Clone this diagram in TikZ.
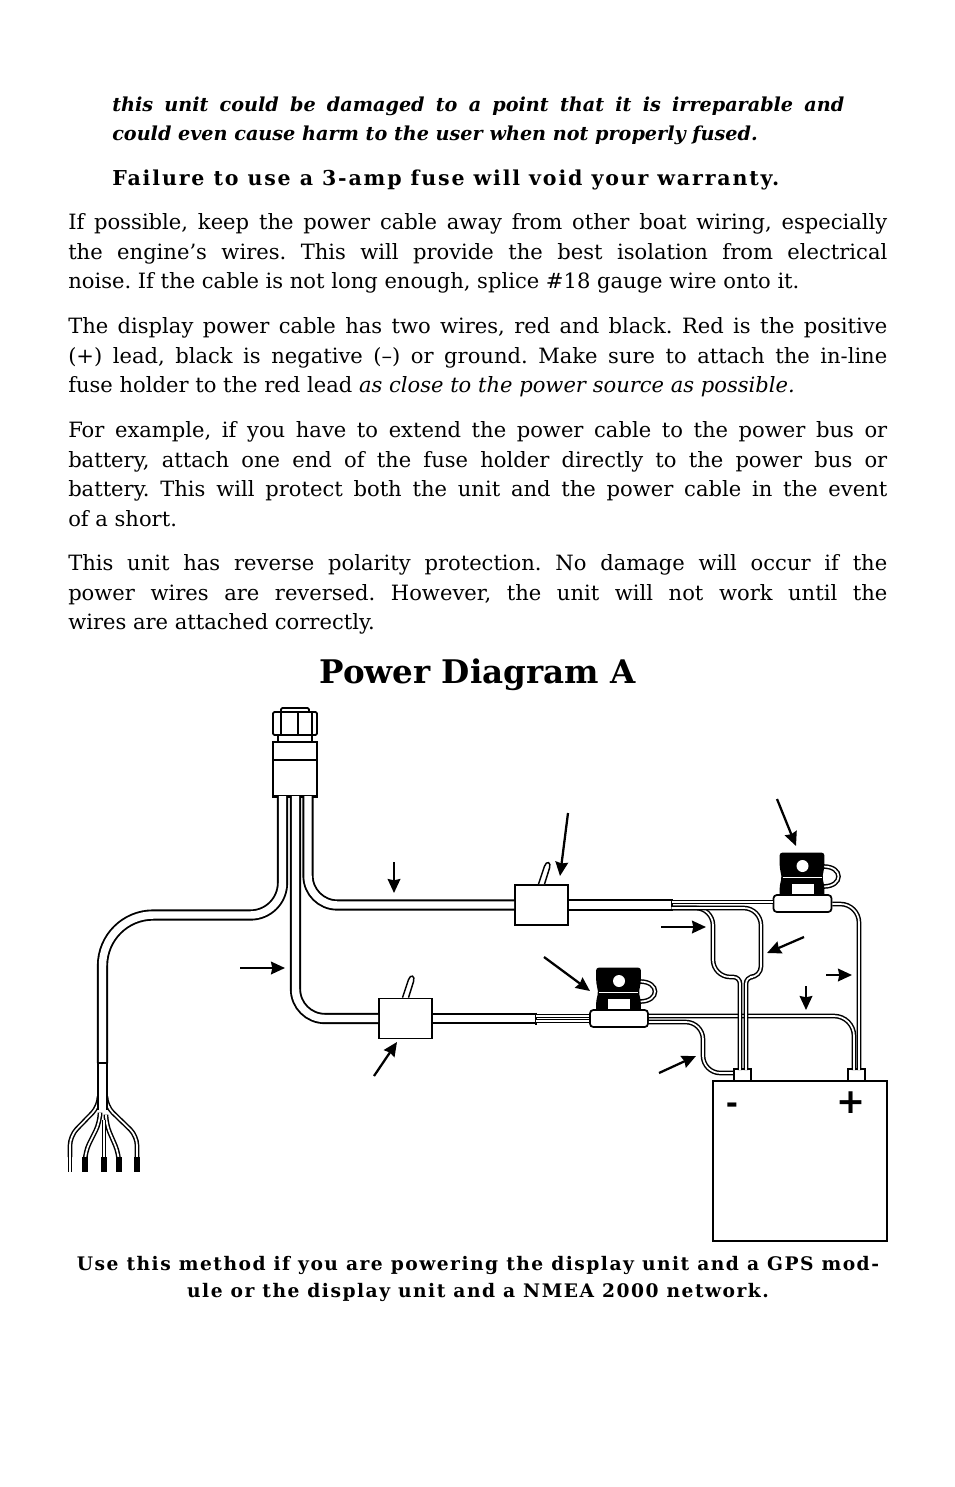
\documentclass[tikz,border=0pt]{standalone}
\usepackage{fontspec}
\setmainfont{DejaVu Serif}
\newfontfamily\signfont{DejaVu Sans}
\usetikzlibrary{arrows.meta}
\tikzset{
  x=0.75pt,y=-0.75pt,
  bodytext/.style={anchor=north west,inner sep=0pt,text width=614.25pt,align=justify,font=\fontsize{15.8}{22.15}\selectfont\frenchspacing},
  warntext/.style={anchor=north west,inner sep=0pt,align=justify,font=\fontsize{14.4}{22.15}\selectfont\bfseries\frenchspacing},
  cable/.style={line width=1.4pt,double=white,double distance=5.6pt},
  wire/.style={line width=1.1pt,double=white,double distance=1.3pt},
  pointer/.style={line width=1.7pt,-{Stealth[length=10.5pt,width=9.5pt,inset=1pt]}},
  switchbox/.style={draw,line width=1.3pt,fill=white,inner sep=0pt,minimum width=39.75pt,minimum height=30pt},
  terminal/.style={draw,line width=1.3pt,fill=white,inner sep=0pt,minimum width=13pt,minimum height=9pt},
  fusebase/.style={draw,line width=1.3pt,fill=white,inner sep=0pt,rounded corners=2.5pt,minimum width=43.5pt,minimum height=12.75pt},
  lever/.pic={
    \draw[line width=1.1pt,fill=white] (-3,0) -- (3,-18) .. controls (5,-24) and (10,-22) .. (8,-16) -- (3,0);
  },
  fuseholder/.pic={
    \draw[wire] (21,-37) .. controls (41,-37) and (41,-17) .. (21,-17);
    \draw[line width=1.3pt,fill=black,rounded corners=1.5pt] (-22,-50) -- (21,-50) -- (21,-37) -- (19,-26) -- (21,-17) -- (21,-6) -- (-22,-6) -- (-22,-17) -- (-20,-26) -- (-22,-37) -- cycle;
    \draw[white,line width=0.7pt] (-20,-26) -- (19,-26);
    \fill[white] (0,-37.5) circle[radius=6];
    \fill[white] (-11,-20) rectangle (11,-9.5);
    \node[fusebase] (-base) at (0,0) {};
  }
}
\begin{document}
\begin{tikzpicture}
  \useasboundingbox (0,0) rectangle (954,1487);
  % page text
  \node[warntext,text width=549pt,font=\fontsize{14.4}{22.15}\selectfont\bfseries\itshape\frenchspacing] (warnA) at (112,96.5) {this unit could be damaged to a point that it is irreparable and\linebreak could even cause harm to the user when not properly fused.};
  \node[warntext,align=left,font=\fontsize{15.4}{22.15}\selectfont\bfseries\addfontfeature{LetterSpace=9}] (warnB) at (112,170) {Failure to use a 3-amp fuse will void your warranty.};
  \node[bodytext] (paraA) at (68,213.5) {If possible, keep the power cable away from other boat wiring, especially\linebreak the engine's wires. This will provide the best isolation from electrical\linebreak noise. If the cable is not long enough, splice \#18 gauge wire onto it.};
  \node[bodytext] (paraB) at (68,317.5) {The display power cable has two wires, red and black. Red is the positive\linebreak (+) lead, black is negative (--) or ground. Make sure to attach the in-line\linebreak fuse holder to the red lead \emph{as close to the power source as possible.}};
  \node[bodytext] (paraC) at (68,421.5) {For example, if you have to extend the power cable to the power bus or\linebreak battery, attach one end of the fuse holder directly to the power bus or\linebreak battery. This will protect both the unit and the power cable in the event\linebreak of a short.};
  \node[bodytext] (paraD) at (68,554.5) {This unit has reverse polarity protection. No damage will occur if the\linebreak power wires are reversed. However, the unit will not work until the\linebreak wires are attached correctly.};
  \node[inner sep=0pt,font=\fontsize{24.4}{30}\selectfont\bfseries] (title) at (477.5,675) {Power Diagram A};
  \node[inner sep=0pt,align=center,font=\fontsize{14}{19.6}\selectfont\bfseries\addfontfeature{LetterSpace=8}] (caption) at (478,1279) {Use this method if you are powering the display unit and a GPS mod-\\ule or the display unit and a NMEA 2000 network.};
  % plug
  \draw[line width=1.3pt,rounded corners=1pt] (281,712) -- (281,708) -- (309,708) -- (309,712);
  \draw[line width=1.3pt,rounded corners=1pt] (273,712) rectangle (317,735);
  \draw[line width=1.1pt] (281,712) -- (281,735);
  \draw[line width=1.1pt] (298,712) -- (298,735);
  \draw[line width=1.1pt] (312,712) -- (312,735);
  \draw[line width=1.3pt] (278,735) rectangle (312,742);
  \node[draw,line width=1.5pt,inner sep=0pt,minimum width=33pt,minimum height=40pt] (plug) at (295,769) {};
  \draw[line width=1.3pt] (plug.west |- 0,760) -- (plug.east |- 0,760);
  \draw[line width=2.2pt] (plug.south west) -- (plug.south east);
  % boxes
  \node[switchbox] (switchB) at (541.5,905) {};
  \node[switchbox] (switchA) at (405.5,1018.5) {};
  \pic at (switchB.north) {lever};
  \pic at (switchA.north) {lever};
  % cables
  \coordinate (cableL) at (282.5,796);
  \coordinate (cableM) at (295.5,796);
  \coordinate (cableR) at (308,796);
  \coordinate (cornerL) at (102.5,915);
  \coordinate (endL) at (102.5,1063);
  \coordinate (endB) at (671.5,905);
  \coordinate (endA) at (536,1018.5);
  % wire bundle at the free end
  \foreach \wx/\wy/\tx/\ty in {99/1100/70/1157,100/1116/85/1157,106/1100/137/1157,106/1118/119/1157}
    \draw[wire,rounded corners=7pt] (\wx,\wy) -- (\wx,\wy+6) -- (\tx,\wy+36) -- (\tx,\ty);
  \draw[wire] (70,1157) -- (70,1172);
  \draw[line width=4pt] (85,1157) -- (85,1172);
  \draw[line width=4pt] (119,1157) -- (119,1172);
  \draw[line width=4pt] (137,1157) -- (137,1172);
  \draw[line width=4pt] (104,1157) -- (104,1172);
  \draw[wire] (104,1120) -- (104,1157);
  \draw[line width=1.1pt,double=white,double distance=5.8pt] (102.5,1063) -- (102.5,1110);
  % cables in front
  \draw[cable] (cableL) [rounded corners=24pt] -- (cableL |- cornerL) [rounded corners=38pt] -- (cornerL) -- (endL);
  \draw[line width=1.5pt] (97,1063) -- (108,1063);
  \draw[cable,rounded corners=22pt] (cableM) |- (switchA.west);
  \draw[cable,rounded corners=22pt] (cableR) |- (switchB.west);
  \draw[cable] (switchB.east) -- (endB);
  \draw[cable] (switchA.east) -- (endA);
  \draw[line width=1.5pt] (671.5,899) -- (671.5,911);
  \draw[line width=1.5pt] (536,1012.5) -- (536,1024.5);
  % battery
  \node[draw,line width=1.3pt,inner sep=0pt,minimum width=130.5pt,minimum height=120pt] (battery) at (800,1161) {};
  \node[terminal] (termNeg) at (742.5,1075) {};
  \node[terminal] (termPos) at (856.5,1075) {};
  \node[inner sep=0pt,font=\fontsize{22}{22}\selectfont\signfont\bfseries] (minus) at (732,1108) {-};
  \node[inner sep=0pt,font=\fontsize{26}{26}\selectfont\signfont\bfseries] (plus) at (851,1103) {+};
  % fuses
  \pic (fuseA) at (802.5,903.5) {fuseholder};
  \pic (fuseB) at (619,1018.5) {fuseholder};
  % wires
  \draw[wire] (671.5,902) -- (fuseA-base.west |- 0,902);
  \draw[wire,rounded corners=14pt] (fuseA-base.east |- 0,904) -- (859,904) -- (859,1070);
  \draw[wire] (536,1016) -- (fuseB-base.west |- 0,1016);
  \draw[wire] (536,1021) -- (fuseB-base.west |- 0,1021);
  \draw[wire,rounded corners=15pt] (fuseB-base.east |- 0,1016) -- (854,1016) -- (854,1070);
  \draw[wire,rounded corners=13pt] (fuseB-base.east |- 0,1022) -- (703,1022) -- (703,1073) -- (termNeg.west |- 0,1073);
  \draw[wire] (671.5,908) [rounded corners=13pt] -- (713,908) -- (713,977) [rounded corners=5pt] -- (740,977) -- (740,1070);
  \draw[wire] (671.5,908) [rounded corners=13pt] -- (761,908) [rounded corners=8pt] -- (761,977) [rounded corners=5pt] -- (746,977) -- (746,1070);
  % pointers
  \foreach \ax/\ay/\bx/\by in {394/862/394/893,568/813/560/876,240/968/285/968,544/957/590/991,374/1076/397/1042,777/799/796/846,661/927/706/927,804/937/767/953,826/975/852/975,806/986/806/1010,659/1073/696/1056}
    \draw[pointer] (\ax,\ay) -- (\bx,\by);
\end{tikzpicture}
\end{document}
